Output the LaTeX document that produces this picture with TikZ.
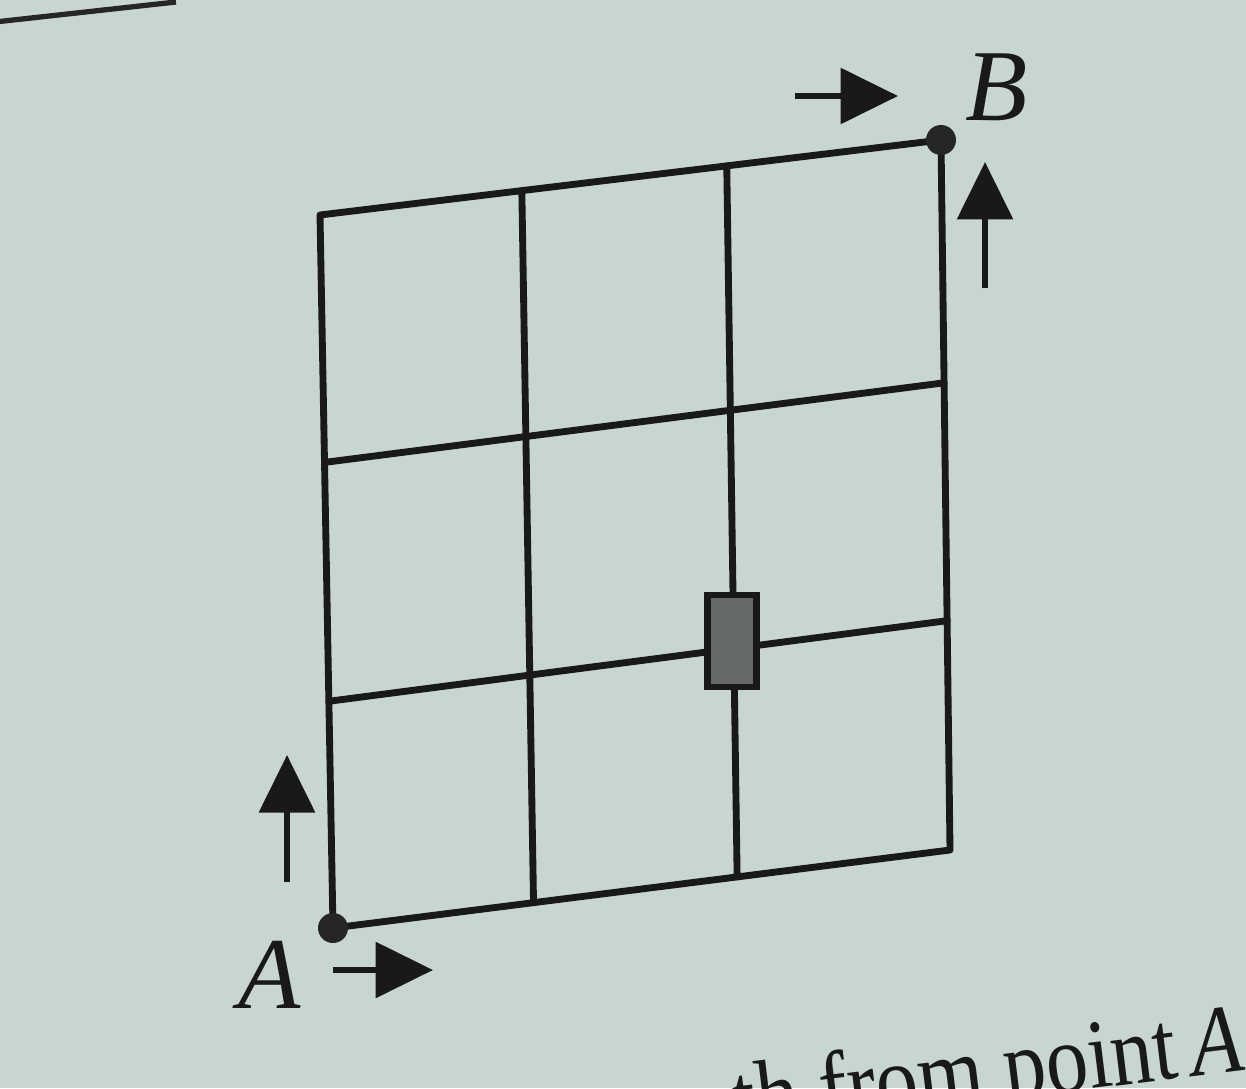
\documentclass[tikz,border=0pt]{standalone}
\usepackage{fontspec}
\setmainfont{Liberation Serif}
\usetikzlibrary{calc,arrows.meta}
\definecolor{paper}{RGB}{199,213,211}
\definecolor{blockgray}{RGB}{102,107,106}
\tikzset{
  gridline/.style={line width=3.9pt, black!90, line cap=round, line join=round},
  dot/.style={circle, fill=black!85, minimum size=0.6cm, inner sep=0pt},
  block/.style={rectangle, draw=black!90, line width=3.5pt, fill=blockgray, minimum width=0.98cm, minimum height=1.84cm, inner sep=0pt},
  bigarrow/.style={line width=3.6pt, black!90, -{Triangle[length=1.15cm,width=1.1cm]}},
  lbl/.style={font=\fontsize{58pt}{60pt}\selectfont\itshape, inner sep=0pt, text=black!90},
  pagetext/.style={font=\fontsize{56pt}{60pt}\selectfont, inner sep=0pt, text=black!90}
}
\begin{document}
\begin{tikzpicture}[x=0.02cm,y=-0.02cm]
\useasboundingbox (0,0) rectangle (1246,1088);
\clip (0,0) rectangle (1246,1088);
\fill[paper] (0,0) rectangle (1246,1088);
% page rule at top-left
\coordinate (r1) at (-5,22);
\coordinate (r2) at (176,2);
\draw[line width=3pt, black!85] (r1) -- (r2);
% grid corners
\coordinate (TL) at (320,215);
\coordinate (TR) at (941,140);
\coordinate (BL) at (333,928);
\coordinate (BR) at (950,850);
\draw[gridline] (TL) -- (TR) -- (BR) -- (BL) -- cycle;
\foreach \u in {0.325,0.655}{
  \draw[gridline] ($(TL)!\u!(TR)$) -- ($(BL)!\u!(BR)$);
}
\foreach \v/\w in {0.347/0.342,0.682/0.677}{
  \draw[gridline] ($(TL)!\v!(BL)$) -- ($(TR)!\w!(BR)$);
}
% blocked segment
\node[block] (blk) at (732,641) {};
% endpoints
\node[dot] (A) at (BL) {};
\node[dot] (B) at (TR) {};
\node[lbl] (Alab) at (270,975) {A};
\node[lbl] (Blab) at (997,87) {B};
% direction arrows
\coordinate (au1) at (287,882);
\coordinate (au2) at (287,755);
\coordinate (ar1) at (333,970);
\coordinate (ar2) at (433,970);
\coordinate (br1) at (795,96);
\coordinate (br2) at (898,96);
\coordinate (bu1) at (985,288);
\coordinate (bu2) at (985,162);
\draw[bigarrow] (au1) -- (au2);
\draw[bigarrow] (ar1) -- (ar2);
\draw[bigarrow] (br1) -- (br2);
\draw[bigarrow] (bu1) -- (bu2);
% running text at the bottom
\node[pagetext, anchor=base east, rotate=7, xscale=0.86] (txt) at (1246,1070) {th from point\,\textit{A}};
\end{tikzpicture}
\end{document}
